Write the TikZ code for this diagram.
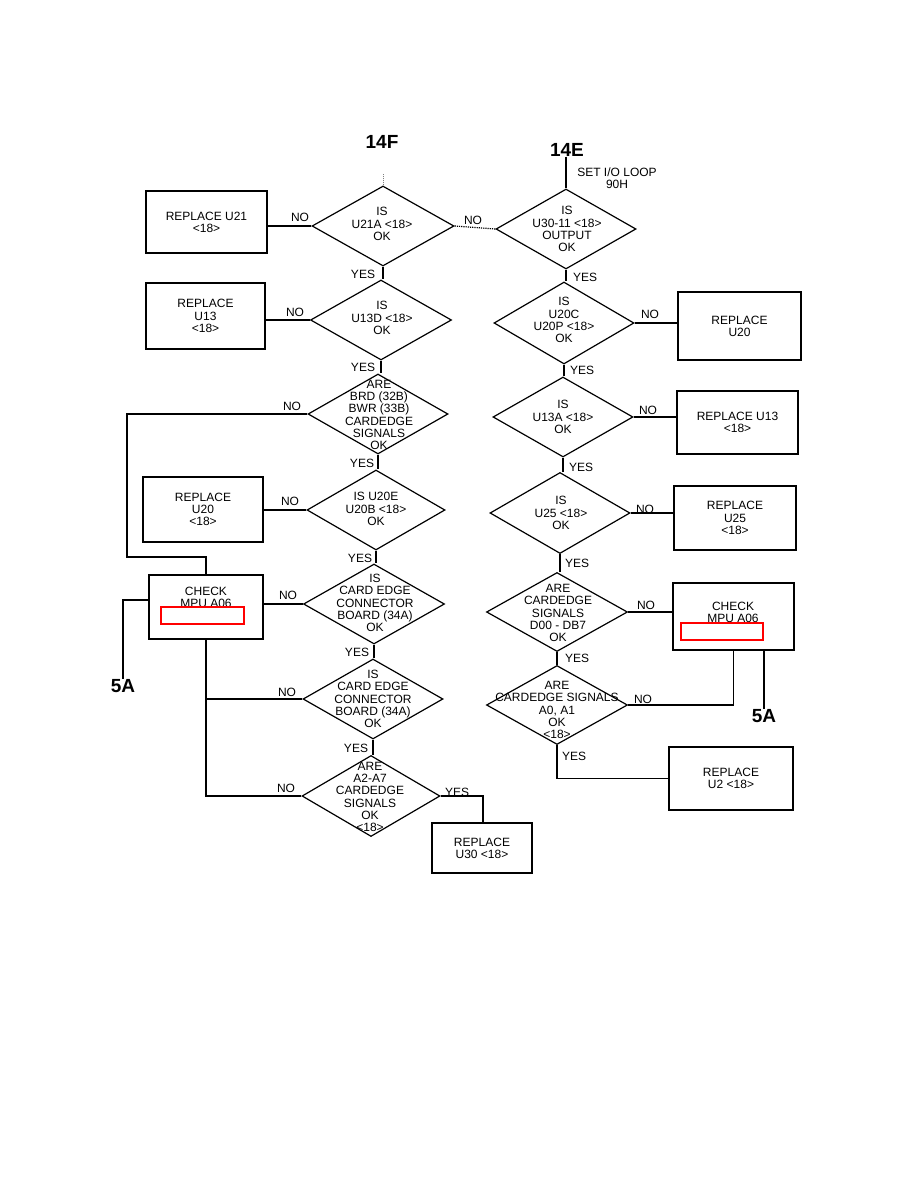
\documentclass[tikz,border=0pt]{standalone}
\usepackage{fontspec}
\setmainfont{Liberation Sans}
\usetikzlibrary{shapes.geometric}
\newcommand\dfont{\fontsize{12}{12.2}\selectfont}
\newcommand\labfont{\fontsize{19}{20}\selectfont\bfseries}
\begin{document}
\begin{tikzpicture}[x=1pt,y=-1pt,
  boxn/.style 2 args={draw, line width=1.4pt, minimum width=#1, minimum height=#2, inner sep=0, align=center, font=\dfont},
  dia/.style 2 args={diamond, draw, line width=1.2pt, minimum width=#1, minimum height=#2, inner sep=0},
  txt/.style={align=center, font=\dfont, inner sep=0},
  lbl/.style={font=\dfont, inner sep=0},
  big/.style={font=\labfont, inner sep=0},
  ln/.style={line width=1.4pt},
  redbox/.style={draw=red, line width=1.2pt, fill=white}]
\useasboundingbox (0,0) rectangle (918,1188);
\fill[white] (0,0) rectangle (918,1188);

% ---------- labels ----------
\node[big] (l14f) at (382,142) {14F};
\node[big] (l14e) at (567,150) {14E};
\node[big] (l5al) at (123,686) {5A};
\node[big] (l5ar) at (764,716) {5A};
\node[txt] (setio) at (617,178) {SET I/O LOOP\\90H};

% ---------- left column diamonds ----------
\node[dia={142}{80}] (d1) at (383,226) {};
\node[txt] (t1) at (382,224) {IS\\U21A <18>\\OK};
\node[dia={141}{80}] (d2) at (381,320) {};
\node[txt] (t2) at (382,318) {IS\\U13D <18>\\OK};
\node[dia={140}{80}] (d3) at (378,414) {};
\node[txt] (t3) at (379,415) {ARE\\BRD (32B)\\BWR (33B)\\CARDEDGE\\SIGNALS\\OK};
\node[dia={138}{80}] (d4) at (376,510) {};
\node[txt] (t4) at (376,509) {IS U20E\\U20B <18>\\OK};
\node[dia={141}{80}] (d5) at (374,604) {};
\node[txt] (t5) at (375,603) {IS\\CARD EDGE\\CONNECTOR\\BOARD (34A)\\OK};
\node[dia={140}{80}] (d6) at (373,699) {};
\node[txt] (t6) at (373,699) {IS\\CARD EDGE\\CONNECTOR\\BOARD (34A)\\OK};
\node[dia={138}{81}] (d7) at (371,796) {};
\node[txt] (t7) at (370,797) {ARE\\A2-A7\\CARDEDGE\\SIGNALS\\OK\\<18>};

% ---------- right column diamonds ----------
\node[dia={140}{80}] (d8) at (566,229) {};
\node[txt] (t8) at (567,229) {IS\\U30-11 <18>\\OUTPUT\\OK};
\node[dia={140}{82}] (d9) at (564,323) {};
\node[txt] (t9) at (564,320) {IS\\U20C\\U20P <18>\\OK};
\node[dia={140}{80}] (d10) at (563,417) {};
\node[txt] (t10) at (563,417) {IS\\U13A <18>\\OK};
\node[dia={140}{81}] (d11) at (560,513) {};
\node[txt] (t11) at (561,513) {IS\\U25 <18>\\OK};
\node[dia={141}{79}] (d12) at (557,612) {};
\node[txt] (t12) at (558,613) {ARE\\CARDEDGE\\SIGNALS\\D00 - DB7\\OK};
\node[dia={141}{79}] (d13) at (557,705) {};
\node[txt] (t13) at (557,710) {ARE\\CARDEDGE SIGNALS\\A0, A1\\OK\\<18>};

% ---------- boxes ----------
\node[boxn={121}{62}] (r21) at (206.5,222) {REPLACE U21\\<18>};
\node[boxn={119}{66}] (r13l) at (205.5,316) {REPLACE\\U13\\<18>};
\node[boxn={120}{65}] (r20l) at (203,509.5) {REPLACE\\U20\\<18>};
\node[boxn={114}{64}] (chkl) at (206,607) {};
\node[txt] (chklt) at (206,597) {CHECK\\MPU A06};
\draw[redbox] (161,607) rectangle (244,624);
\node[boxn={100}{50}] (r30) at (482,848) {REPLACE\\U30 <18>};
\node[boxn={123}{68}] (r20r) at (739.5,326) {REPLACE\\U20};
\node[boxn={121}{63}] (r13r) at (737.5,422.5) {REPLACE U13\\<18>};
\node[boxn={122}{64}] (r25) at (735,518) {REPLACE\\U25\\<18>};
\node[boxn={121}{67}] (chkr) at (733.5,616.5) {};
\node[txt] (chkrt) at (733,612) {CHECK\\MPU A06};
\draw[redbox] (681,623) rectangle (763,640);
\node[boxn={124}{63}] (r2) at (731,778.5) {REPLACE\\U2 <18>};

% ---------- connectors left ----------
\draw[line width=1pt, densely dotted, gray] (d1.north) -- ++(0,-12);
\draw[ln] (d1.west) -- (r21.east |- d1.west);
\draw[line width=1.2pt, densely dotted] (d1.east) -- (d8.west);
\draw[ln] (d1.south) -- (d1.south |- d2.north);
\draw[ln] (d2.west) -- (r13l.east |- d2.west);
\draw[ln] (d2.south) -- (d2.south |- d3.north);
\coordinate (c3a) at (127,414);
\coordinate (c3b) at (127,557);
\coordinate (c3c) at (206,557);
\draw[ln] (d3.west) -- (c3a) -- (c3b) -- (c3c) -- (chkl.north);
\draw[ln] (d3.south) -- (d3.south |- d4.north);
\draw[ln] (d4.west) -- (r20l.east |- d4.west);
\draw[ln] (d4.south) -- (d4.south |- d5.north);
\draw[ln] (d5.west) -- (chkl.east |- d5.west);
\coordinate (c5a) at (123,600);
\draw[ln] (chkl.west |- c5a) -- (c5a) -- (l5al.north);
\draw[ln] (d5.south) -- (d5.south |- d6.north);
\draw[ln] (d6.south) -- (d6.south |- d7.north);
\coordinate (c6) at (206,699);
\coordinate (c7) at (206,796);
\draw[ln] (chkl.south) -- (c7) -- (d7.west);
\draw[ln] (c6) -- (d6.west);
\coordinate (c7r) at (483,796);
\draw[ln] (d7.east) -- (c7r) -- (r30.north -| c7r);

% ---------- connectors right ----------
\draw[ln] (l14e.south -| d8.north) -- (d8.north);
\draw[ln] (d8.south) -- (d8.south |- d9.north);
\draw[ln] (d9.east) -- (r20r.west |- d9.east);
\draw[ln] (d9.south) -- (d9.south |- d10.north);
\draw[ln] (d10.east) -- (r13r.west |- d10.east);
\draw[ln] (d10.south) -- (d10.south |- d11.north);
\draw[ln] (d11.east) -- (r25.west |- d11.east);
\draw[ln] (d11.south) -- (d11.south |- d12.north);
\draw[ln] (d12.east) -- (chkr.west |- d12.east);
\draw[ln] (d12.south) -- (d13.north);
\draw[ln] (d13.east) -| (chkr.south);
\draw[ln] (chkr.south -| l5ar) -- (l5ar.north);
\draw[ln] (d13.south) |- (r2.west);

% ---------- YES / NO ----------
\node[lbl] (n1) at (300,217) {NO};
\node[lbl] (n2) at (473,220) {NO};
\node[lbl] (y1) at (363,274) {YES};
\node[lbl] (n3) at (295,312) {NO};
\node[lbl] (y2) at (363,367) {YES};
\node[lbl] (n4) at (292,406) {NO};
\node[lbl] (y3) at (362,463) {YES};
\node[lbl] (n5) at (290,501) {NO};
\node[lbl] (y4) at (360,558) {YES};
\node[lbl] (n6) at (288,595) {NO};
\node[lbl] (y5) at (357,652) {YES};
\node[lbl] (n7) at (287,692) {NO};
\node[lbl] (y6) at (356,748) {YES};
\node[lbl] (n8) at (286,788) {NO};
\node[lbl] (y7) at (457,792) {YES};
\node[lbl] (y8) at (585,277) {YES};
\node[lbl] (n9) at (650,314) {NO};
\node[lbl] (y9) at (582,370) {YES};
\node[lbl] (n10) at (648,410) {NO};
\node[lbl] (y10) at (581,467) {YES};
\node[lbl] (n11) at (645,509) {NO};
\node[lbl] (y11) at (577,563) {YES};
\node[lbl] (n12) at (646,605) {NO};
\node[lbl] (y12) at (577,658) {YES};
\node[lbl] (n13) at (643,699) {NO};
\node[lbl] (y13) at (574,756) {YES};
\end{tikzpicture}
\end{document}
